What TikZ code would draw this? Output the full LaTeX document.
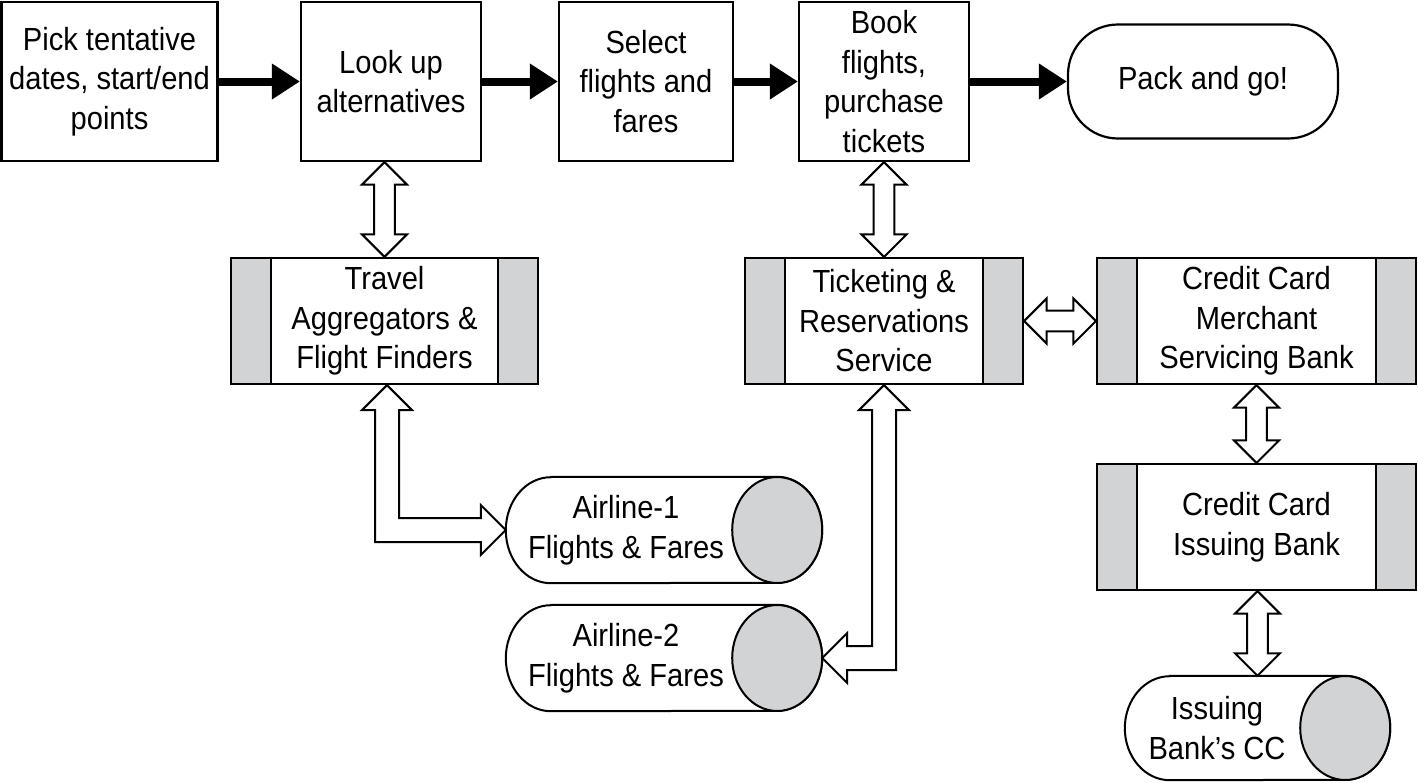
\documentclass[tikz,border=0pt]{standalone}
\usepackage{fontspec}
\setmainfont{Liberation Sans}[FakeStretch=0.91]
\usetikzlibrary{arrows.meta,calc}
\definecolor{barfill}{RGB}{209,211,212}
\tikzset{
  base/.style={inner sep=0pt, align=center, font=\fontsize{32}{39.5}\selectfont},
  stepbox/.style={base, draw, line width=2.2pt, minimum width=#1, minimum height=159pt},
  barbox/.style={base, draw, line width=2.2pt, minimum width=#1, minimum height=126pt,
    path picture={
      \fill[barfill] (path picture bounding box.north west) rectangle ([xshift=40pt]path picture bounding box.south west);
      \fill[barfill] (path picture bounding box.north east) rectangle ([xshift=-40pt]path picture bounding box.south east);
      \draw[line width=2.2pt] ([xshift=40pt]path picture bounding box.north west) -- ([xshift=40pt]path picture bounding box.south west);
      \draw[line width=2.2pt] ([xshift=-40pt]path picture bounding box.north east) -- ([xshift=-40pt]path picture bounding box.south east);
    }},
  cylnode/.style={inner sep=0pt, minimum width=#1},
  cylline/.style={line width=2pt, fill=white},
  flow/.style={line width=8pt, -{Triangle[length=28pt,width=34pt]}},
  hollow/.style={draw, fill=white, line width=2pt, line join=miter}
}
\newcommand\myvarrow[2]{\draw[hollow] let \p1=(#1), \p2=(#2) in
  (\x2,\y1) -- (\x2+22.5pt,\y1-22.5pt) -- (\x2+10.3pt,\y1-22.5pt) -- (\x2+10.3pt,\y2+22.5pt) -- (\x2+22.5pt,\y2+22.5pt) -- (\x2,\y2)
  -- (\x2-22.5pt,\y2+22.5pt) -- (\x2-10.3pt,\y2+22.5pt) -- (\x2-10.3pt,\y1-22.5pt) -- (\x2-22.5pt,\y1-22.5pt) -- cycle;}
\newcommand\myharrow[2]{\draw[hollow] let \p1=(#1), \p2=(#2) in
  (\x1,\y1) -- (\x1+22.5pt,\y1+22.5pt) -- (\x1+22.5pt,\y1+10.3pt) -- (\x2-22.5pt,\y1+10.3pt) -- (\x2-22.5pt,\y1+22.5pt) -- (\x2,\y1)
  -- (\x2-22.5pt,\y1-22.5pt) -- (\x2-22.5pt,\y1-10.3pt) -- (\x1+22.5pt,\y1-10.3pt) -- (\x1+22.5pt,\y1-22.5pt) -- cycle;}
% elbow: top tip #1, side tip #2 to the right
\newcommand\myelbowr[2]{\draw[hollow] let \p1=(#1), \p2=(#2) in
  (\x1,\y1) -- (\x1+25pt,\y1-25pt) -- (\x1+12pt,\y1-25pt) -- (\x1+12pt,\y2+12pt) -- (\x2-25pt,\y2+12pt) -- (\x2-25pt,\y2+25pt) -- (\x2,\y2)
  -- (\x2-25pt,\y2-25pt) -- (\x2-25pt,\y2-12pt) -- (\x1-12pt,\y2-12pt) -- (\x1-12pt,\y1-25pt) -- (\x1-25pt,\y1-25pt) -- cycle;}
% elbow: top tip #1, side tip #2 to the left
\newcommand\myelbowl[2]{\draw[hollow] let \p1=(#1), \p2=(#2) in
  (\x1,\y1) -- (\x1+25pt,\y1-25pt) -- (\x1+12pt,\y1-25pt) -- (\x1+12pt,\y2-12pt) -- (\x2+25pt,\y2-12pt) -- (\x2+25pt,\y2-25pt) -- (\x2,\y2)
  -- (\x2+25pt,\y2+25pt) -- (\x2+25pt,\y2+12pt) -- (\x1-12pt,\y2+12pt) -- (\x1-12pt,\y1-25pt) -- (\x1-25pt,\y1-25pt) -- cycle;}
\newcommand\mycyl[3]{%
  \draw[cylline] ([xshift=#2]#1.north west) -- ([xshift=-#2]#1.north east)
    arc[start angle=90,end angle=-90,x radius=#2,y radius=#3]
    -- ([xshift=#2]#1.south west)
    arc[start angle=270,end angle=90,x radius=#2,y radius=#3] -- cycle;
  \filldraw[line width=2pt, fill=barfill] ([xshift=-#2]#1.east) ellipse[x radius=#2,y radius=#3];}
\begin{document}
\begin{tikzpicture}[x=1pt,y=-1pt]
\useasboundingbox (0,0) rectangle (1418,782);
\fill[white] (0,0) rectangle (1418,782);

% top row
\node[stepbox=216pt] (b1) at (109.5,81.5) {Pick tentative\\dates, start/end\\points};
\node[stepbox=180pt] (b2) at (391,81.5) {Look up\\alternatives};
\node[stepbox=174pt] (b3) at (646,81.5) {Select\\flights and\\fares};
\node[stepbox=170pt] (b4) at (884,81.5) {Book\\flights,\\purchase\\tickets};
\node[base, draw, line width=2.2pt, rounded corners=50pt, minimum width=270pt, minimum height=114pt] (pk) at (1203,81.5) {Pack and go!};

\draw[flow] (b1.east) -- (b2.west);
\draw[flow] (b2.east) -- (b3.west);
\draw[flow] (b3.east) -- (b4.west);
\draw[flow] (b4.east) -- (pk.west);

% service boxes
\node[barbox=307pt] (ta) at (384.5,321) {Travel\\Aggregators \&\\Flight Finders};
\node[barbox=278pt] (tk) at (884,321) {Ticketing \&\\Reservations\\Service};
\node[barbox=319pt] (mc) at (1256.5,321) {Credit Card\\Merchant\\Servicing Bank};
\node[barbox=319pt] (ib) at (1256.5,527) {Credit Card\\Issuing Bank};

% cylinders
\node[cylnode=316pt, minimum height=106pt] (a1) at (664,530) {};
\mycyl{a1}{45pt}{53pt}
\node[base] (a1t) at (626,530) {Airline-1\\Flights \& Fares};
\node[cylnode=316pt, minimum height=106pt] (a2) at (664,658) {};
\mycyl{a2}{45pt}{53pt}
\node[base] (a2t) at (626,658) {Airline-2\\Flights \& Fares};
\node[cylnode=265pt, minimum height=104pt] (cc) at (1257.5,728) {};
\mycyl{cc}{45pt}{52pt}
\node[base] (cct) at (1217,728) {Issuing\\Bank’s CC};

% hollow double arrows
\myvarrow{b2.south}{ta.north}
\myvarrow{b4.south}{tk.north}
\myharrow{tk.east}{mc.west}
\myvarrow{mc.south}{ib.north}
\myvarrow{ib.south}{cc.north}
\myelbowr{[xshift=2.5pt]ta.south}{a1.west}
\myelbowl{tk.south}{a2.east}
\end{tikzpicture}
\end{document}
